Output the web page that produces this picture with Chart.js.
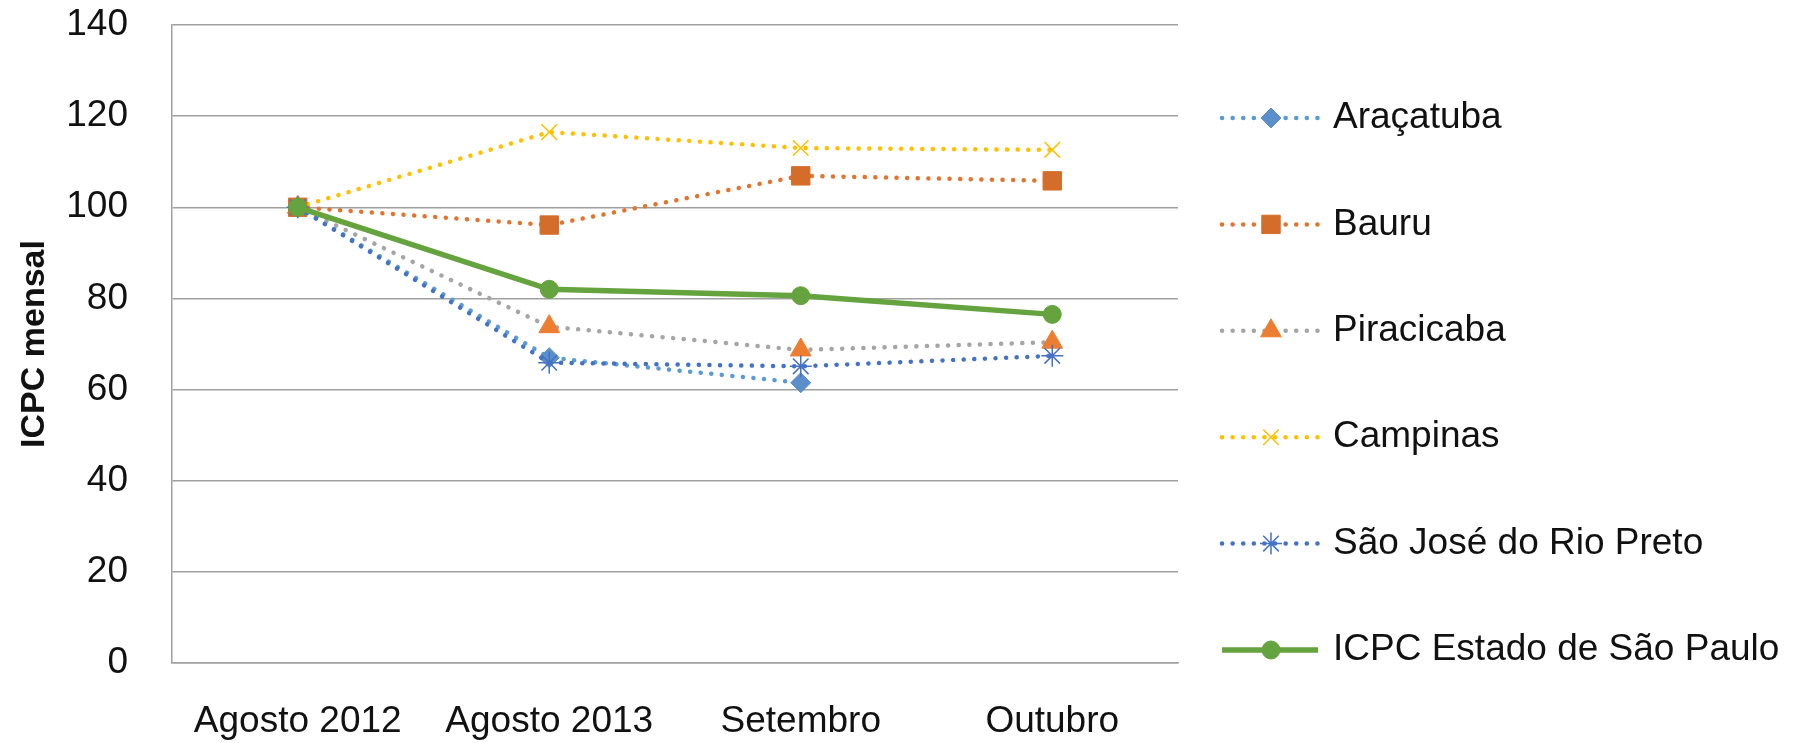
<!DOCTYPE html>
<html>
<head>
<meta charset="utf-8">
<script src="https://cdn.jsdelivr.net/npm/chart.js@4/dist/chart.umd.min.js"></script>
<style>
  html, body { margin: 0; padding: 0; background: #ffffff; }
  #wrap { width: 1802px; height: 743px; }
</style>
</head>
<body>
<div id="wrap"><canvas id="c" width="1802" height="743"></canvas></div>
<script>
// ---- Data ----
const categories = ['Agosto 2012', 'Agosto 2013', 'Setembro', 'Outubro'];
const seriesNames = ['Araçatuba', 'Bauru', 'Piracicaba', 'Campinas', 'São José do Rio Preto', 'ICPC Estado de São Paulo'];
const aracatuba = [100, 67.0, 61.5, null];
const bauru = [100, 96.1, 106.9, 105.8];
const piracicaba = [100, 73.8, 68.7, 70.4];
const campinas = [100, 116.5, 113.0, 112.6];
const saoJose = [100, 65.9, 65.1, 67.4];
const icpc = [100, 82.0, 80.6, 76.5];
const yTicks = [0, 20, 40, 60, 80, 100, 120, 140];
const yTitle = 'ICPC mensal';

const FONT = "'Liberation Sans', Arial, sans-serif";
const dotted = (color, ptStyle, ptColor, ptRadius, ptBorder) => ({
  borderColor: color,
  borderWidth: 4.5,
  borderDash: [0.1, 10.5],
  borderCapStyle: 'round',
  pointStyle: ptStyle,
  pointRadius: ptRadius,
  pointBackgroundColor: ptColor,
  pointBorderColor: ptColor,
  pointBorderWidth: ptBorder,
  pointHoverRadius: ptRadius,
  tension: 0,
  fill: false
});

const seriesData = [aracatuba, bauru, piracicaba, campinas, saoJose, icpc];
const styles = [
  dotted('#5B9BD5', 'rectRot', '#5B8FCB', 10, 1),
  dotted('#E2742F', 'rect', '#D46D2A', 13, 1),
  dotted('#A5A5A5', 'triangle', '#ED7D31', 12, 1),
  dotted('#FFC000', 'crossRot', '#FFC000', 11, 1.5),
  dotted('#4472C4', 'star', '#4472C4', 11, 1.5),
  {
    borderColor: '#65A33E', borderWidth: 5.5, pointStyle: 'circle', pointRadius: 9,
    pointBackgroundColor: '#65A33E', pointBorderColor: '#65A33E', pointBorderWidth: 1,
    pointHoverRadius: 9, tension: 0, fill: false
  }
];
const orders = [2, 3, 4, 5, 1, 0];

const datasets = seriesNames.map((name, i) => Object.assign({
  label: name,
  data: seriesData[i],
  order: orders[i],
  spanGaps: false
}, styles[i]));

// ---- Custom legend drawn on the canvas ----
const legendPlugin = {
  id: 'sideLegend',
  afterDraw(chart) {
    const ctx = chart.ctx;
    const x0 = 1222, x1 = 1318, xm = 1271, xt = 1333;
    const yStart = 118, step = 106.4;
    ctx.save();
    chart.data.datasets.forEach((ds, i) => {
      const y = yStart + i * step;
      ctx.save();
      ctx.strokeStyle = ds.borderColor;
      ctx.lineWidth = ds.borderWidth;
      ctx.lineCap = ds.borderCapStyle || 'butt';
      ctx.setLineDash(ds.borderDash || []);
      ctx.beginPath();
      ctx.moveTo(x0, y);
      ctx.lineTo(x1, y);
      ctx.stroke();
      ctx.restore();
      const opts = {
        pointStyle: ds.pointStyle,
        radius: ds.pointRadius,
        rotation: 0,
        borderWidth: ds.pointBorderWidth
      };
      ctx.save();
      ctx.fillStyle = ds.pointBackgroundColor;
      ctx.strokeStyle = ds.pointBorderColor;
      ctx.lineWidth = ds.pointBorderWidth;
      ctx.setLineDash([]);
      if (Chart.helpers && Chart.helpers.drawPoint) {
        Chart.helpers.drawPoint(ctx, opts, xm, y);
      }
      ctx.restore();
      ctx.fillStyle = '#111111';
      ctx.font = '37px ' + FONT;
      ctx.textBaseline = 'middle';
      ctx.textAlign = 'left';
      ctx.fillText(ds.label, xt, y);
    });
    ctx.restore();
  }
};

new Chart(document.getElementById('c'), {
  type: 'line',
  data: { labels: categories, datasets },
  options: {
    responsive: false,
    animation: false,
    devicePixelRatio: 1,
    layout: { padding: { left: 0, top: 25, right: 624, bottom: 0 } },
    plugins: { legend: { display: false }, tooltip: { enabled: false } },
    scales: {
      x: {
        type: 'category',
        offset: true,
        grid: { display: false, drawTicks: false },
        border: { display: true, color: '#A0A0A0', width: 1.5 },
        ticks: { color: '#111111', font: { family: FONT, size: 37 }, padding: 37, maxRotation: 0, autoSkip: false },
        afterFit(scale) { scale.height = 80; scale.paddingLeft = 0; scale.paddingRight = 0; }
      },
      y: {
        min: 0,
        max: 140,
        afterBuildTicks(scale) { scale.ticks = yTicks.map(v => ({ value: v })); },
        grid: { color: '#A0A0A0', lineWidth: 1.5, drawTicks: false },
        border: { display: true, color: '#A0A0A0', width: 1.5 },
        ticks: { color: '#111111', font: { family: FONT, size: 37 }, padding: 44 },
        title: { display: true, text: yTitle, color: '#111111', font: { family: FONT, size: 34, weight: 'bold' }, padding: { top: 14, bottom: 0 } },
        afterFit(scale) { scale.width = 172; scale.paddingTop = 0; scale.paddingBottom = 0; }
      }
    }
  },
  plugins: [legendPlugin]
});
</script>
</body>
</html>
